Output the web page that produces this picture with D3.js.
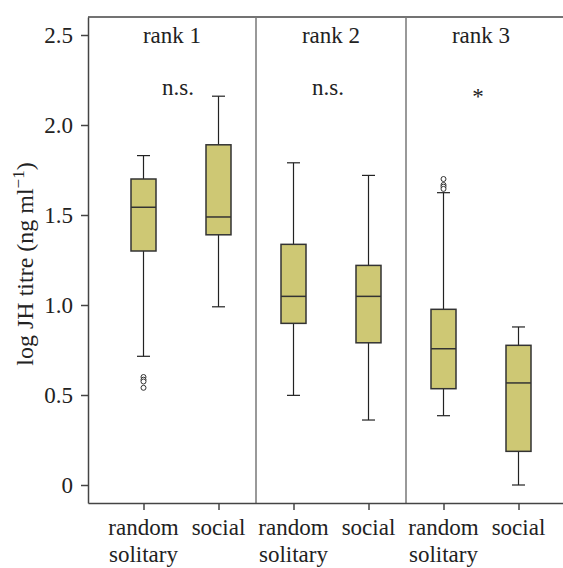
<!DOCTYPE html>
<meta charset="utf-8">
<style>
  body { margin: 0; background: #fff; }
  svg text { font-family: "Liberation Serif", "Times New Roman", serif; fill: #222; }
</style>
<svg width="563" height="568"></svg>
<script src="https://d3js.org/d3.v7.min.js"></script>
<script>

// box summaries, one entry per group, in order rank1 rs, rank1 social, rank2 rs, ...
var ranks = ["rank 1", "rank 2", "rank 3"];
var signif = ["n.s.", "n.s.", "*"];
var groups = ["random solitary", "social", "random solitary", "social", "random solitary", "social"];
var whiskerLow  = [0.715, 0.99, 0.498, 0.361, 0.385, 0.0];
var q1          = [1.30, 1.39, 0.898, 0.79, 0.535, 0.187];
var median      = [1.543, 1.489, 1.048, 1.048, 0.757, 0.567];
var q3          = [1.70, 1.89, 1.337, 1.22, 0.976, 0.776];
var whiskerHigh = [1.83, 2.16, 1.79, 1.72, 1.624, 0.878];
var outliers    = [[0.60, 0.585, 0.575, 0.54], [], [], [], [1.70, 1.667, 1.657, 1.645], []];
var yTicks = [0, 0.5, 1.0, 1.5, 2.0, 2.5];

var svg = d3.select("svg");

var x = d3.scaleLinear().domain([-0.74, 5.6]).range([88, 563.5]);
var y = d3.scaleLinear().domain([-0.1, 2.6]).range([503, 17]);

var boxW = 25, capW = 13;
var lineCol = "#444";

// frame: top line + panel dividers
svg.append("line")
    .attr("x1", x(-0.74)).attr("x2", x(5.6))
    .attr("y1", y(2.6)).attr("y2", y(2.6))
    .attr("stroke", lineCol).attr("stroke-width", 1.5);

svg.selectAll(".divider")
  .data([1.5, 3.5])
  .enter().append("line")
    .attr("class", "divider")
    .attr("x1", function(d) { return x(d); }).attr("x2", function(d) { return x(d); })
    .attr("y1", y(2.6)).attr("y2", y(-0.1))
    .attr("stroke", "#777").attr("stroke-width", 1.5);

// axes
var yAxis = svg.append("g")
    .attr("transform", "translate(" + x(-0.74) + ",0)")
    .call(d3.axisLeft(y)
      .tickValues(yTicks)
      .tickSize(7)
      .tickSizeOuter(0)
      .tickPadding(8)
      .tickFormat(function(d) { return d === 0 ? "0" : d3.format(".1f")(d); }));
yAxis.selectAll("path, line").attr("stroke", lineCol).attr("stroke-width", 1.5);
yAxis.selectAll("text").attr("font-size", 23).attr("font-family", null);

var xAxis = svg.append("g")
    .attr("transform", "translate(0," + y(-0.1) + ")")
    .call(d3.axisBottom(x)
      .tickValues(d3.range(groups.length))
      .tickSize(7)
      .tickSizeOuter(0)
      .tickFormat(""));
xAxis.selectAll("path, line").attr("stroke", lineCol).attr("stroke-width", 1.5);

// category labels (two lines for random solitary)
groups.forEach(function(g, i) {
  var words = g === "social" ? ["social"] : ["random", "solitary"];
  var t = svg.append("text")
      .attr("x", x(i))
      .attr("y", 535)
      .attr("text-anchor", "middle")
      .attr("font-size", 23);
  words.forEach(function(w, k) {
    t.append("tspan").attr("x", x(i)).attr("dy", k === 0 ? 0 : 27).text(w);
  });
});

// y label
var yl = svg.append("text")
    .attr("transform", "translate(33," + 264 + ") rotate(-90)")
    .attr("text-anchor", "middle")
    .attr("font-size", 24);
yl.append("tspan").text("log JH titre (ng ml");
yl.append("tspan").attr("font-size", 17).attr("dy", -9).text("\u22121");
yl.append("tspan").attr("dy", 9).text(")");

// boxes
var idx = d3.range(groups.length);
var box = svg.selectAll(".box").data(idx).enter().append("g").attr("class", "box");

box.append("line")
    .attr("x1", function(i) { return x(i); }).attr("x2", function(i) { return x(i); })
    .attr("y1", function(i) { return y(whiskerLow[i]); })
    .attr("y2", function(i) { return y(whiskerHigh[i]); })
    .attr("stroke", "#222").attr("stroke-width", 1.2);

box.selectAll(".cap")
  .data(function(i) { return [{i: i, v: whiskerLow[i]}, {i: i, v: whiskerHigh[i]}]; })
  .enter().append("line")
    .attr("x1", function(d) { return x(d.i) - capW / 2; })
    .attr("x2", function(d) { return x(d.i) + capW / 2; })
    .attr("y1", function(d) { return y(d.v); })
    .attr("y2", function(d) { return y(d.v); })
    .attr("stroke", "#222").attr("stroke-width", 1.2);

box.append("rect")
    .attr("x", function(i) { return x(i) - boxW / 2; })
    .attr("width", boxW)
    .attr("y", function(i) { return y(q3[i]); })
    .attr("height", function(i) { return y(q1[i]) - y(q3[i]); })
    .attr("fill", "#cec874")
    .attr("stroke", "#333").attr("stroke-width", 1.5);

box.append("line")
    .attr("x1", function(i) { return x(i) - boxW / 2; })
    .attr("x2", function(i) { return x(i) + boxW / 2; })
    .attr("y1", function(i) { return y(median[i]); })
    .attr("y2", function(i) { return y(median[i]); })
    .attr("stroke", "#333").attr("stroke-width", 1.5);

box.selectAll(".out")
  .data(function(i) { return outliers[i].map(function(v) { return {i: i, v: v}; }); })
  .enter().append("circle")
    .attr("cx", function(d) { return x(d.i); })
    .attr("cy", function(d) { return y(d.v); })
    .attr("r", 2.5)
    .attr("fill", "#fff")
    .attr("stroke", "#333").attr("stroke-width", 1);

// panel titles and significance marks
var panelEdges = [[-0.74, 1.5], [1.5, 3.5], [3.5, 5.5]];
ranks.forEach(function(r, k) {
  var cx = (x(panelEdges[k][0]) + x(panelEdges[k][1])) / 2;
  svg.append("text")
      .attr("x", cx).attr("y", 43)
      .attr("text-anchor", "middle")
      .attr("font-size", 23)
      .text(r);
  svg.append("text")
      .attr("x", (x(2 * k) + x(2 * k + 1)) / 2 - 3).attr("y", signif[k] === "*" ? 104 : 95)
      .attr("text-anchor", "middle")
      .attr("font-size", 23)
      .text(signif[k]);
});

</script>
